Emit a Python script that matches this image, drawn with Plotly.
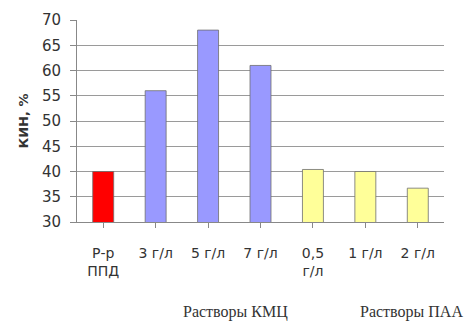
import plotly.graph_objects as go

# Oil recovery factor by displacing fluid
categories = ["Р-р<br>ППД", "3 г/л", "5 г/л", "7 г/л", "0,5<br>г/л", "1 г/л", "2 г/л"]
kin_values = [40, 56, 68, 61, 40.4, 40, 36.7]
bar_colors = ["#FF0000", "#9999FF", "#9999FF", "#9999FF", "#FFFF99", "#FFFF99", "#FFFF99"]

y_ticks = [30, 35, 40, 45, 50, 55, 60, 65, 70]
group_labels = ["Растворы КМЦ", "Растворы ПАА"]
group_centers = [2.52, 5.88]

sans = "DejaVu Sans, Verdana, sans-serif"
serif = "Liberation Serif, Times New Roman, serif"
text_color = "#333333"

fig = go.Figure(
    go.Bar(
        x=list(range(len(categories))),
        y=kin_values,
        marker=dict(color=bar_colors, line=dict(color="#6F6F6F", width=0.8)),
        width=0.4,
    )
)

fig.update_layout(
    width=469,
    height=323,
    margin=dict(l=77, r=25, t=20, b=101),
    paper_bgcolor="white",
    plot_bgcolor="white",
    showlegend=False,
    font=dict(family=sans, size=14, color=text_color),
)

fig.update_xaxes(
    tickmode="array",
    tickvals=list(range(len(categories))),
    ticktext=categories,
    range=[-0.5, len(categories) - 0.5],
    tickson="boundaries",
    ticks="outside",
    ticklen=5,
    tickcolor="#888888",
    showline=True,
    linecolor="#888888",
    linewidth=1,
    showgrid=False,
    ticklabelstandoff=13,
    tickfont=dict(family=sans, size=14, color=text_color),
)

fig.update_yaxes(
    range=[30, 70],
    tickmode="array",
    tickvals=y_ticks,
    ticks="outside",
    ticklen=6,
    tickcolor="#888888",
    showline=True,
    linecolor="#888888",
    linewidth=1,
    showgrid=True,
    gridcolor="#9A9A9A",
    gridwidth=1,
    zeroline=False,
    ticklabelstandoff=6,
    tickfont=dict(family=sans, size=15, color=text_color),
    title=dict(
        text="<b>КИН, %</b>",
        font=dict(family=sans, size=13, color=text_color),
        standoff=10,
    ),
)

# Group captions beneath the solution categories
for label, xc in zip(group_labels, group_centers):
    fig.add_annotation(
        x=xc, y=0, xref="x", yref="paper", yanchor="middle", yshift=-90,
        text=label, showarrow=False,
        font=dict(family=serif, size=16, color=text_color),
    )

fig.write_html("out.html")
